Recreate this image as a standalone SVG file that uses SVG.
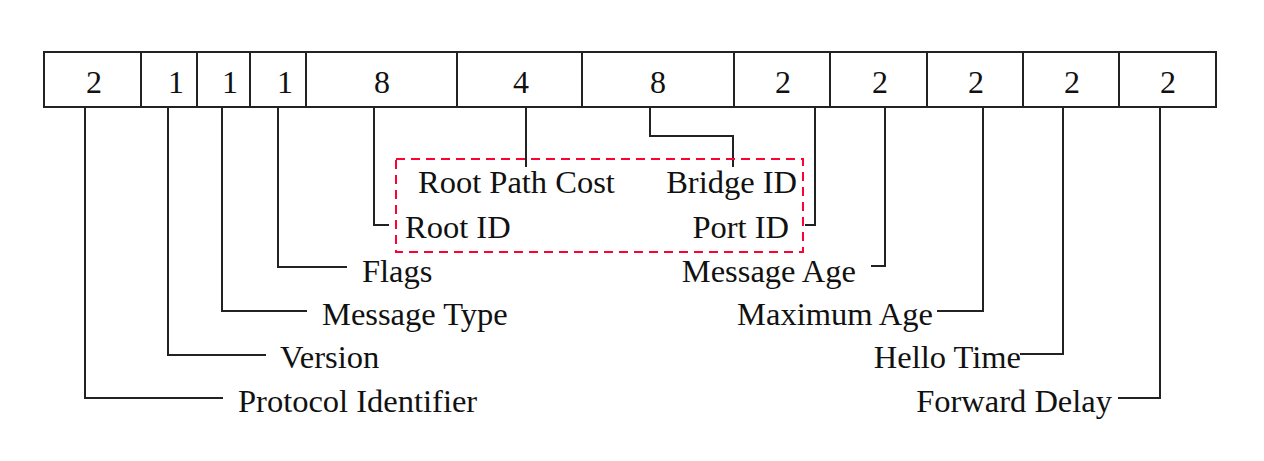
<svg xmlns="http://www.w3.org/2000/svg" width="1264" height="461" viewBox="0 0 1264 461">
<style>
.cell{fill:#fff;stroke:#222;stroke-width:2}
.num{font-family:"Liberation Serif","Times New Roman",serif;font-size:32px;fill:#111;text-anchor:middle}
.lbl{font-family:"Liberation Serif","Times New Roman",serif;font-size:32.5px;fill:#111}
.end{text-anchor:end}
.conn{fill:none;stroke:#222;stroke-width:2}
.grp{fill:none;stroke:#ff0033;stroke-width:2;stroke-dasharray:9 6}
</style>
<rect width="1264" height="461" fill="#fff"/>
<g id="fields">
<rect class="cell" x="44" y="52" width="97" height="55"/>
<rect class="cell" x="141" y="52" width="56" height="55"/>
<rect class="cell" x="197" y="52" width="53" height="55"/>
<rect class="cell" x="250" y="52" width="56" height="55"/>
<rect class="cell" x="306" y="52" width="151" height="55"/>
<rect class="cell" x="457" y="52" width="125" height="55"/>
<rect class="cell" x="582" y="52" width="152" height="55"/>
<rect class="cell" x="734" y="52" width="96" height="55"/>
<rect class="cell" x="830" y="52" width="97" height="55"/>
<rect class="cell" x="927" y="52" width="96" height="55"/>
<rect class="cell" x="1023" y="52" width="96" height="55"/>
<rect class="cell" x="1119" y="52" width="97" height="55"/>
<text class="num" x="94" y="93">2</text>
<text class="num" x="176" y="93">1</text>
<text class="num" x="230" y="93">1</text>
<text class="num" x="285" y="93">1</text>
<text class="num" x="382" y="93">8</text>
<text class="num" x="521" y="93">4</text>
<text class="num" x="658" y="93">8</text>
<text class="num" x="783" y="93">2</text>
<text class="num" x="880" y="93">2</text>
<text class="num" x="976" y="93">2</text>
<text class="num" x="1072" y="93">2</text>
<text class="num" x="1168" y="93">2</text>
</g>
<g id="connectors">
<path class="conn" d="M85 107V398H223"/>
<path class="conn" d="M168 107V355H266"/>
<path class="conn" d="M222 107V311H307"/>
<path class="conn" d="M278 107V267H347"/>
<path class="conn" d="M374 107V225H389"/>
<path class="conn" d="M526 107V167"/>
<path class="conn" d="M650 107V136H733V167"/>
<path class="conn" d="M815 107V225H805"/>
<path class="conn" d="M885 107V266H871"/>
<path class="conn" d="M983 107V311H937"/>
<path class="conn" d="M1063 107V354H1020"/>
<path class="conn" d="M1160 107V398H1118"/>
</g>
<g id="group-ids">
<rect class="grp" x="396" y="159" width="407" height="93"/>
</g>
<g id="root-path-cost"><text class="lbl" x="418" y="193">Root Path Cost</text></g>
<g id="bridge-id"><text class="lbl end" x="797" y="193">Bridge ID</text></g>
<g id="root-id"><text class="lbl" x="405" y="238">Root ID</text></g>
<g id="port-id"><text class="lbl end" x="789" y="238">Port ID</text></g>
<g id="flags"><text class="lbl" x="362" y="282">Flags</text></g>
<g id="message-type"><text class="lbl" x="322" y="325">Message Type</text></g>
<g id="version"><text class="lbl" x="280" y="368">Version</text></g>
<g id="protocol-identifier"><text class="lbl" x="238" y="412">Protocol Identifier</text></g>
<g id="message-age"><text class="lbl end" x="856" y="282">Message Age</text></g>
<g id="maximum-age"><text class="lbl end" x="933" y="325">Maximum Age</text></g>
<g id="hello-time"><text class="lbl end" x="1021" y="368">Hello Time</text></g>
<g id="forward-delay"><text class="lbl end" x="1112" y="412">Forward Delay</text></g>
</svg>
